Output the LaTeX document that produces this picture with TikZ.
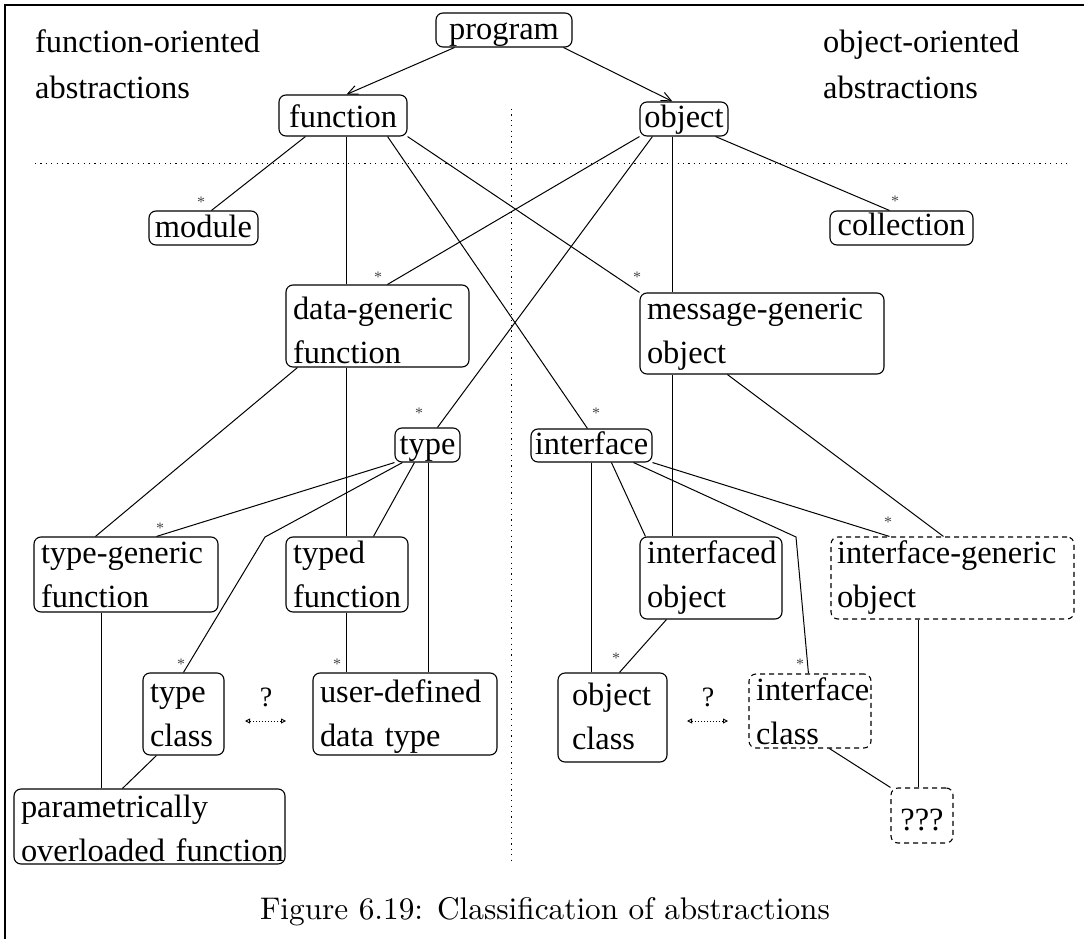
\documentclass[tikz,border=0pt]{standalone}
\usepackage{fontspec}
\newfontfamily\tnr{Liberation Serif}
\usetikzlibrary{arrows.meta}
\newcommand\mainf{\tnr\fontsize{32.4}{44}\selectfont}
\begin{document}
\begin{tikzpicture}[x=1pt,y=-1pt,
  every node/.style={font=\mainf},
  box/.style={draw, rounded corners=7pt, line width=1.1pt, inner ysep=0pt},
  one/.style={box, inner xsep=0pt, align=center},
  two/.style={box, align=left},
  dbox/.style={dash pattern=on 5pt off 4pt},
  conn/.style={line width=1pt},
  arr/.style={conn, -{Straight Barb[length=10pt, width=9pt]}},
  darrow/.style={line width=0.9pt, dash pattern=on 1pt off 2pt,
    {Triangle[open, length=5pt, width=5pt]}-{Triangle[open, length=5pt, width=5pt]}},
  dotline/.style={line width=1pt, dash pattern=on 1.2pt off 4.2pt},
  astk/.style={font=\tnr\fontsize{16}{16}\selectfont, text=black!70, inner sep=0pt},
  qmark/.style={font=\tnr\fontsize{28}{28}\selectfont, inner sep=0pt},
  head/.style={anchor=base west, text width=320pt, align=left, inner sep=0pt,
    font=\tnr\fontsize{32.4}{46}\selectfont}
]
\useasboundingbox (0,0) rectangle (1084,939);

% frame
\draw[line width=2pt] (5,939) -- (5,5) -- (1084,5);

% headings
\node[head] (hfun) at (35,53) {function-oriented\\abstractions};
\node[head] (hobj) at (823,53) {object-oriented\\abstractions};

% separators
\draw[dotline] (35,163) -- (1067,163);
\draw[dotline] (511,109) -- (511,862);

% single-line boxes
\node[one, minimum width=136pt, text height=27pt, text depth=7pt] (program) at (504,30) {program};
\node[one, minimum width=128pt, text height=33pt, text depth=8pt] (function) at (343,115.5) {function};
\node[one, minimum width=88pt, text height=26pt, text depth=8pt] (object) at (684,119) {object};
\node[one, minimum width=109pt, text height=26pt, text depth=8pt] (module) at (203.5,228) {module};
\node[one, minimum width=143pt, text height=24pt, text depth=10pt] (collection) at (901.5,228) {collection};
\node[one, minimum width=65pt, text height=26pt, text depth=8pt] (type) at (427.5,445) {type};
\node[one, minimum width=121pt, text height=25pt, text depth=8pt] (interface) at (591.5,445.5) {interface};
\node[one, dbox, minimum width=62pt, text height=42pt, text depth=13pt] (qqq) at (922,815.5) {???};

% two-line boxes
\node[two, inner xsep=7pt, text width=169pt, text height=34pt, text depth=48pt] (datagen) at (377.5,326) {\mbox{data-generic}\\\mbox{function}};
\node[two, inner xsep=7pt, text width=230pt, text height=26pt, text depth=55pt] (msggen) at (762,333.5) {\mbox{message-generic}\\\mbox{object}};
\node[two, inner xsep=7pt, text width=170pt, text height=26pt, text depth=49pt] (typegen) at (126,574.5) {\mbox{type-generic}\\\mbox{function}};
\node[two, inner xsep=7pt, text width=108pt, text height=26pt, text depth=49pt] (typed) at (347,574.5) {\mbox{typed}\\\mbox{function}};
\node[two, inner xsep=7pt, text width=128pt, text height=26pt, text depth=56pt] (interfaced) at (711,578) {\mbox{interfaced}\\\mbox{object}};
\node[two, dbox, inner xsep=6pt, text width=231pt, text height=26pt, text depth=56pt] (intgen) at (952.5,578) {\mbox{interface-generic}\\\mbox{object}};
\node[two, inner xsep=7pt, text width=67pt, text height=29pt, text depth=53pt] (typeclass) at (183.5,714) {\mbox{type}\\\mbox{class}};
\node[two, inner xsep=7pt, text width=170pt, text height=29pt, text depth=53pt] (userdef) at (405,714) {\mbox{user-defined}\\\mbox{data type}};
\node[two, inner xsep=14pt, text width=81pt, text height=32pt, text depth=57pt] (objclass) at (612.5,717.5) {\mbox{object}\\\mbox{class}};
\node[two, dbox, inner xsep=7pt, text width=108pt, text height=26pt, text depth=48pt] (intclass) at (810,711) {\mbox{interface}\\\mbox{class}};
\node[two, inner xsep=7pt, text width=257pt, text height=28pt, text depth=47pt] (param) at (149.5,826.5) {\mbox{parametrically}\\\mbox{overloaded function}};

% bend points
\coordinate (bend1) at (265,537);
\coordinate (bend2) at (796,537);

% connectors
\draw[arr] ([xshift=19pt]program.south west) -- ([xshift=68pt]function.north west);
\draw[arr] ([xshift=-9pt]program.south east) -- ([xshift=33pt]object.north west);
\draw[conn] ([xshift=27pt]function.south west) -- ([xshift=63pt]module.north west);
\draw[conn] ([xshift=68pt]function.south west) -- ([xshift=61pt]datagen.north west);
\draw[conn] ([xshift=61pt]datagen.south west) -- ([xshift=61pt]typed.north west);
\draw[conn] ([xshift=61pt]typed.south west) -- ([xshift=34pt]userdef.north west);
\draw[conn] ([xshift=-20pt]function.south east) -- ([xshift=57pt]interface.north west);
\draw[conn] (function.south east) -- (msggen.north west);
\draw[conn] (object.south west) -- ([xshift=102pt]datagen.north west);
\draw[conn] ([xshift=13pt]object.south west) -- ([xshift=43pt]type.north west);
\draw[conn] ([xshift=33pt]object.south west) -- ([xshift=33pt]msggen.north west);
\draw[conn] ([xshift=33pt]msggen.south west) -- ([xshift=33pt]interfaced.north west);
\draw[conn] ([xshift=-13pt]object.south east) -- ([xshift=60pt]collection.north west);
\draw[conn] ([xshift=12pt]datagen.south west) -- ([xshift=62pt]typegen.north west);
\draw[conn] (type.south west) -- ([xshift=123pt]typegen.north west);
\draw[conn] ([xshift=8pt]type.south west) -- (bend1) -- ([xshift=41pt]typeclass.north west);
\draw[conn] ([xshift=20pt]type.south west) -- ([xshift=88pt]typed.north west);
\draw[conn] ([xshift=34pt]type.south west) -- ([xshift=116pt]userdef.north west);
\draw[conn] ([xshift=68pt]typegen.south west) -- ([xshift=88pt]param.north west);
\draw[conn] ([xshift=14pt]typeclass.south west) -- ([xshift=109pt]param.north west);
\draw[conn] ([xshift=88pt]msggen.south west) -- ([xshift=113pt]intgen.north west);
\draw[conn] ([xshift=81pt]interface.south west) -- ([xshift=6pt]interfaced.north west);
\draw[conn] ([xshift=61pt]interface.south west) -- ([xshift=34pt]objclass.north west);
\draw[conn] ([xshift=-19pt]interface.south east) -- (bend2) -- ([xshift=60pt]intclass.north west);
\draw[conn] (interface.south east) -- ([xshift=59pt]intgen.north west);
\draw[conn] ([xshift=27pt]interfaced.south west) -- ([xshift=62pt]objclass.north west);
\draw[conn] ([xshift=81pt]intclass.south west) -- (qqq.north west);
\draw[conn] ([xshift=88pt]intgen.south west) -- ([xshift=28pt]qqq.north west);

% multiplicity stars
\node[astk] (s1) at (201,202) {*};
\node[astk] (s2) at (895,201) {*};
\node[astk] (s3) at (378,277) {*};
\node[astk] (s4) at (637,277) {*};
\node[astk] (s5) at (419,413) {*};
\node[astk] (s6) at (596,413) {*};
\node[astk] (s7) at (160,528) {*};
\node[astk] (s8) at (888,522) {*};
\node[astk] (s9) at (181,664) {*};
\node[astk] (s10) at (337,664) {*};
\node[astk] (s11) at (616,658) {*};
\node[astk] (s12) at (800,664) {*};

% question marks with dotted double arrows
\coordinate (qa1) at (245,721);
\coordinate (qa2) at (286,721);
\coordinate (qb1) at (687,721);
\coordinate (qb2) at (728,721);
\node[qmark] (q1) at (266,697) {?};
\node[qmark] (q2) at (708,697) {?};
\draw[darrow] (qa1) -- (qa2);
\draw[darrow] (qb1) -- (qb2);

% caption
\node[anchor=base, inner sep=0pt, font=\normalfont] (cap) at (545,919)
  {\scalebox{3.13}{\fontsize{10}{12}\selectfont Figure 6.19: Classification of abstractions}};
\end{tikzpicture}
\end{document}
